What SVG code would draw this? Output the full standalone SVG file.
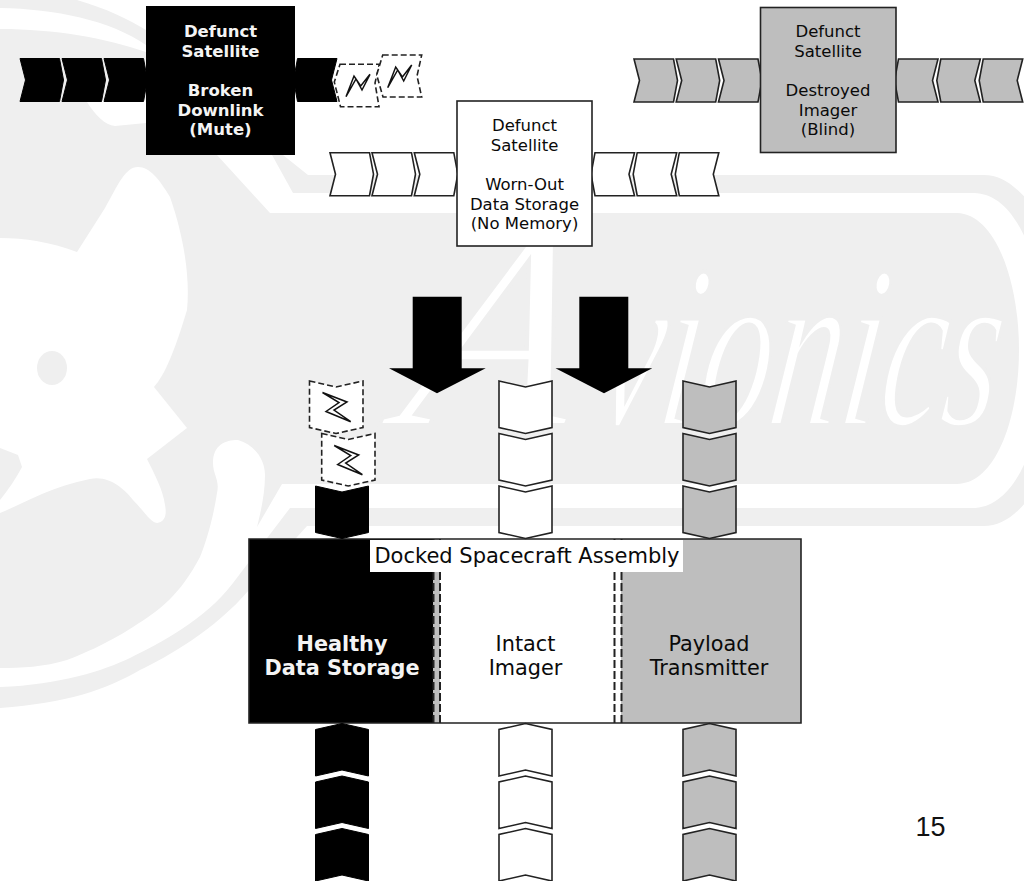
<svg xmlns="http://www.w3.org/2000/svg" width="1024" height="881" viewBox="0 0 1024 881">
<style>
text{font-family:"DejaVu Sans",sans-serif;text-anchor:middle}
.t{font-size:16.5px;fill:#0a0a0a}
.tb{font-size:16.5px;fill:#f4f4f4;font-weight:bold}
.l{font-size:20.8px;fill:#0a0a0a}
.lb{font-size:20.8px;fill:#f4f4f4;font-weight:bold}
.k{fill:#000;stroke:#000;stroke-width:1}
.w{fill:#fff;stroke:#222;stroke-width:1.6}
.g{fill:#bebebe;stroke:#222;stroke-width:1.6}
.d{fill:#fff;stroke:#222;stroke-width:1.6;stroke-dasharray:6 3}
.z{fill:#fff;stroke:#111;stroke-width:1.5;stroke-linejoin:miter}
.wm{fill:#efefef}
.wh{fill:#fff}
.ws{font-family:"Liberation Serif",serif;font-style:italic;fill:#fff;stroke:#efefef;stroke-width:4;text-anchor:start}
</style>
<defs>
<path id="ch" d="M0,0H39.5L43.5,21.5L39.5,43H0L5.5,21.5Z"/>
<path id="cv" d="M0,0L26.5,6L53,0V46.5L26.5,52.5L0,46.5Z"/>
</defs>
<rect width="1024" height="881" fill="#fff"/>
<g id="watermark">
<path class="wm" d="M0,0H77C105,8 130,20 146,30L283,155L308,175H984C1005,175 1020,190 1040,215V480C1024,510 1005,526 984,526H307L249,590C215,630 167,657 140,670C105,690 67,703 0,708Z"/>
<path class="wh" d="M0,8C55,9 110,20 146,45L272,155L293,193H974C1020,194 1045,270 1045,350C1045,430 1020,508 972,508H290L233,583C205,620 160,643 130,658C105,670 60,685 0,687Z"/>
<path class="wm" d="M0,29C55,29 105,38 146,52V100H87V102C95,115 105,125 115,126L146,123L217,155L270,213H957C995,214 1019,280 1019,350C1019,420 995,484 957,484H282L257,527C260,515 265,495 265,475C265,460 255,445 238,440C225,440 213,445 213,463C213,475 220,480 217,493C213,520 205,545 200,557C180,595 160,610 133,627C105,645 80,655 67,660C45,667 20,668 0,668Z"/>
<path class="wh" d="M138,167C125,167 118,185 105,208L77,252C50,242 25,238 0,238V448L18,455L22,467C15,480 8,490 0,500V513C20,505 50,487 90,479C110,475 125,490 133,500C145,512 150,522 157,523C165,522 167,515 165,505C163,490 155,475 147,459L187,428L154,387C165,375 175,350 187,310C190,280 185,240 170,197C160,180 150,167 138,167Z"/>
<ellipse class="wm" cx="52" cy="368" rx="15" ry="17"/>
<text class="ws" transform="translate(395,425) skewX(-12)" font-size="280">A</text>
<text class="ws" transform="translate(592,425) skewX(-8) scale(.61,1)" font-size="232">vionics</text>
</g>
<g id="connectors">
<g id="arrow-left"><path fill="#000" d="M412.7,296.7H461.7V368.3H485.7L437,393.3L389,368.3H412.7Z"/></g>
<g id="arrow-right"><path fill="#000" d="M579.3,296.7H628.3V368.3H652.3L604,393.3L555.5,368.3H579.3Z"/></g>
</g>
<g id="sat-mute">
<use href="#ch" class="k" transform="translate(20,58.5)"/>
<use href="#ch" class="k" transform="translate(62,58.5)"/>
<use href="#ch" class="k" transform="translate(104,58.5)"/>
<use href="#ch" class="k" transform="translate(337,58.5) scale(-1,1)"/>
<rect x="146" y="6" width="149" height="149" fill="#000"/>
<text class="tb" x="220.5" y="36.7">Defunct</text>
<text class="tb" x="220.5" y="56.5">Satellite</text>
<text class="tb" x="220.5" y="96">Broken</text>
<text class="tb" x="220.5" y="116">Downlink</text>
<text class="tb" x="220.5" y="135">(Mute)</text>
<path class="d" d="M340,64.3H379.3L375,83L379,106.7H340.5L334.3,82Z"/>
<path class="z" d="M370,74.3L362,90L356,79L346,96.7L354,76L360.7,86Z"/>
<path class="d" d="M382.7,55H421.7L417,76L421.7,97H383L376.7,75Z"/>
<path class="z" d="M411.7,65L403.7,81L397.7,70L387.7,87.7L395.7,67L402.4,77Z"/>
</g>
<g id="sat-memory">
<use href="#ch" class="w" transform="translate(330,152.7)"/>
<use href="#ch" class="w" transform="translate(372,152.7)"/>
<use href="#ch" class="w" transform="translate(414.3,152.7)"/>
<use href="#ch" class="w" transform="translate(634.5,152.7) scale(-1,1)"/>
<use href="#ch" class="w" transform="translate(676.7,152.7) scale(-1,1)"/>
<use href="#ch" class="w" transform="translate(718.8,152.7) scale(-1,1)"/>
<rect class="w" x="457" y="101" width="135" height="145"/>
<text class="t" x="524.5" y="131">Defunct</text>
<text class="t" x="524.5" y="150.6">Satellite</text>
<text class="t" x="524.5" y="190">Worn-Out</text>
<text class="t" x="524.5" y="209.5">Data Storage</text>
<text class="t" x="524.5" y="229">(No Memory)</text>
</g>
<g id="sat-blind">
<use href="#ch" class="g" transform="translate(634,59)"/>
<use href="#ch" class="g" transform="translate(676.2,59)"/>
<use href="#ch" class="g" transform="translate(718.5,59)"/>
<use href="#ch" class="g" transform="translate(938,59) scale(-1,1)"/>
<use href="#ch" class="g" transform="translate(980.3,59) scale(-1,1)"/>
<use href="#ch" class="g" transform="translate(1022.7,59) scale(-1,1)"/>
<rect class="g" x="760.5" y="7.5" width="135.5" height="145"/>
<text class="t" x="828" y="37">Defunct</text>
<text class="t" x="828" y="57">Satellite</text>
<text class="t" x="828" y="96">Destroyed</text>
<text class="t" x="828" y="116">Imager</text>
<text class="t" x="828" y="135">(Blind)</text>
</g>
<g id="assembly">
<rect x="249" y="539" width="184" height="184" fill="#000"/>
<rect x="433" y="539" width="7" height="184" fill="#bebebe"/>
<rect x="440" y="539" width="181" height="184" fill="#fff"/>
<rect x="621" y="539" width="180" height="184" fill="#bebebe"/>
<path d="M249,539H801V723H249Z" fill="none" stroke="#222" stroke-width="1.6"/>
<path d="M433.5,539V723M440,539V723M614.5,539V723M621.5,539V723" fill="none" stroke="#222" stroke-width="2" stroke-dasharray="8 3"/>
<rect x="370" y="540" width="313" height="32" fill="#fff"/>
<text class="l" x="527" y="562.7" style="font-size:21px">Docked Spacecraft Assembly</text>
<text class="lb" x="342" y="650.7">Healthy</text>
<text class="lb" x="342" y="675">Data Storage</text>
<text class="l" x="525.5" y="650.7">Intact</text>
<text class="l" x="525.5" y="675">Imager</text>
<text class="l" x="709" y="650.7">Payload</text>
<text class="l" x="709" y="675">Transmitter</text>
</g>
<g id="panels-top">
<path class="d" d="M309.5,381L336,387L363,381V427.5L336,433.5L309.5,427.5Z"/>
<path class="z" d="M322.5,392.5L347,402L334,410L350.7,421.7L326,411.5L339,402.5Z"/>
<path class="d" d="M321.7,433.5L348.2,439.5L375,433.5V480L348.2,486L321.7,480Z"/>
<path class="z" d="M334.2,445.5L358.7,455L345.7,463L362.4,474.7L337.7,464.5L350.7,455.5Z"/>
<use href="#cv" class="k" transform="translate(315.5,486)"/>
<use href="#cv" class="w" transform="translate(499,381)"/>
<use href="#cv" class="w" transform="translate(499,433.5)"/>
<use href="#cv" class="w" transform="translate(499,486)"/>
<use href="#cv" class="g" transform="translate(683,381)"/>
<use href="#cv" class="g" transform="translate(683,433.5)"/>
<use href="#cv" class="g" transform="translate(683,486)"/>
</g>
<g id="panels-bottom">
<use href="#cv" class="k" transform="translate(315.5,776) scale(1,-1)"/>
<use href="#cv" class="k" transform="translate(315.5,828.5) scale(1,-1)"/>
<use href="#cv" class="k" transform="translate(315.5,881) scale(1,-1)"/>
<use href="#cv" class="w" transform="translate(499,776) scale(1,-1)"/>
<use href="#cv" class="w" transform="translate(499,828.5) scale(1,-1)"/>
<use href="#cv" class="w" transform="translate(499,881) scale(1,-1)"/>
<use href="#cv" class="g" transform="translate(683,776) scale(1,-1)"/>
<use href="#cv" class="g" transform="translate(683,828.5) scale(1,-1)"/>
<use href="#cv" class="g" transform="translate(683,881) scale(1,-1)"/>
</g>
<text id="page-number" x="930.5" y="836" style="font-family:'Liberation Sans',sans-serif;font-size:27px;fill:#111">15</text>
</svg>
